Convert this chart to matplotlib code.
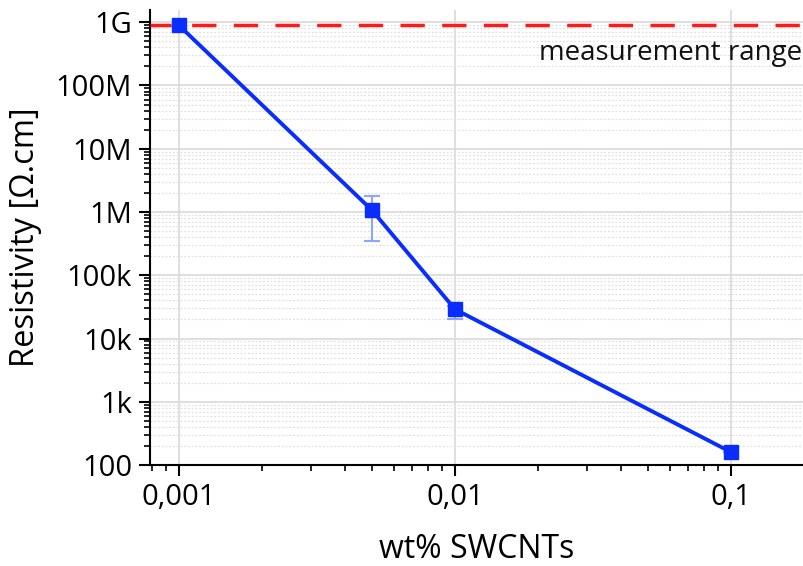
import matplotlib
matplotlib.use("Agg")
import matplotlib.pyplot as plt
from matplotlib.ticker import FixedLocator, LogLocator, NullFormatter

plt.rcParams['font.family'] = ['Open Sans', 'DejaVu Sans']

wt = [0.001, 0.005, 0.01, 0.1]
resistivity = [8.9e8, 1.07e6, 2.9e4, 160]
err_low = [0, 7.2e5, 9e3, 0]
err_high = [0, 7.3e5, 4e3, 0]
limit_value = 8.9e8
xticks = [0.001, 0.01, 0.1]
xticklabels = ["0,001", "0,01", "0,1"]
yticks = [1e2, 1e3, 1e4, 1e5, 1e6, 1e7, 1e8, 1e9]
yticklabels = ["100", "1k", "10k", "100k", "1M", "10M", "100M", "1G"]

fig = plt.figure(figsize=(8.04, 5.66), dpi=100)
ax = fig.add_axes([0.1866, 0.1784, 0.8134, 0.8036])
ax.set_xscale('log')
ax.set_yscale('log')
ax.set_xlim(0.000785, 0.184)
ax.set_ylim(100, 1.55e9)

ax.yaxis.set_minor_locator(LogLocator(base=10, subs=range(2, 10), numticks=20))
ax.xaxis.set_minor_locator(LogLocator(base=10, subs=range(2, 10), numticks=20))
ax.yaxis.set_minor_formatter(NullFormatter())
ax.xaxis.set_minor_formatter(NullFormatter())

ax.grid(True, axis='y', which='major', color='#d9d9d9', lw=1.2)
ax.grid(True, axis='y', which='minor', color='#e0e0e0', lw=0.9, ls=(0, (1.5, 1.5)))
ax.grid(True, axis='x', which='major', color='#d9d9d9', lw=1.2)

ax.axhline(limit_value, color='#ff1a1a', lw=2.5, ls=(0, (7, 5)), zorder=3)
ax.text(0.181, 3.3e8, "measurement range", ha='right', va='center', fontsize=20, color='#111111')

ax.errorbar(wt, resistivity, yerr=[err_low, err_high], fmt='none', ecolor='#8aa4ff',
            elinewidth=1.5, capsize=6, capthick=1.5, zorder=4)
ax.plot(wt, resistivity, color='#0a2dff', lw=2.8, marker='s', markersize=10,
        markerfacecolor='#0a2dff', markeredgecolor='#0a2dff', zorder=5)

ax.set_xticks(xticks)
ax.set_xticklabels(xticklabels)
ax.yaxis.set_major_locator(FixedLocator(yticks))
ax.set_yticklabels(yticklabels)

for s in ['top', 'right']:
    ax.spines[s].set_visible(False)
for s in ['left', 'bottom']:
    ax.spines[s].set_linewidth(1.5)
    ax.spines[s].set_color('black')

ax.tick_params(which='major', length=8, width=1.5, labelsize=21, pad=5, direction='out')
ax.tick_params(which='minor', length=4, width=1.2, direction='out')

ax.set_xlabel("wt% SWCNTs", fontsize=23, va='center')
ax.xaxis.set_label_coords(0.5, -0.185)
ax.set_ylabel("Resistivity [Ω.cm]", fontsize=23.5, va='center')
ax.yaxis.set_label_coords(-0.191, 0.50)

fig.savefig("out.png", dpi=100)
